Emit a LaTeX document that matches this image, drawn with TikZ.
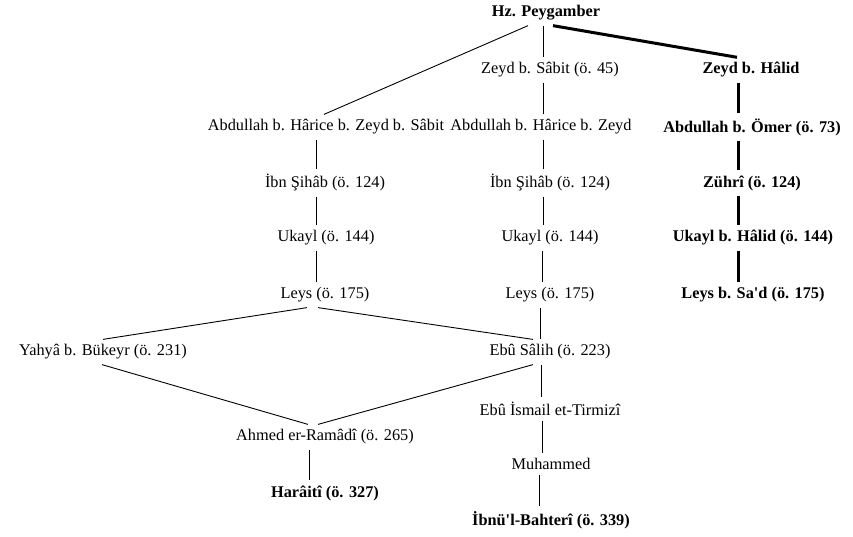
\documentclass[tikz,border=0pt]{standalone}
\usepackage{fontspec}
\setmainfont{Liberation Serif}[Ligatures=TeXOff]
\usetikzlibrary{calc}

\begin{document}
\begin{tikzpicture}[x=1pt,y=-1pt,
	every node/.style={font=\fontsize{16.3}{19}\selectfont, inner xsep=3pt, inner ysep=5pt},
	hb/.style={font=\fontsize{16.3}{19}\selectfont\bfseries},
	thin/.style={line width=0.9pt},
	thick/.style={line width=3pt}]

\newcommand{\drawLink}[5]{%style,from,to,shiftFrom,shiftTo
	\draw[#1] ([xshift=#4pt]#2.south) -- ([xshift=#5pt]#3.north);
}

\useasboundingbox (0,0) rectangle (853,536);

% top
\node[hb] (pey) at (546,13) {Hz. Peygamber};
\node (zSabit) at (550,70) {Zeyd b. Sâbit (ö. 45)};
\node[hb] (zHalid) at (751,70) {Zeyd b. Hâlid};

% left column
\node (abdA) at (326,127) {Abdullah b. Hârice b. Zeyd b. Sâbit};
\node (sihabA) at (325,183) {İbn Şihâb (ö. 124)};
\node (ukaylA) at (326,238) {Ukayl (ö. 144)};
\node (leysA) at (325,295) {Leys (ö. 175)};

% middle column
\node (abdB) at (541,127) {Abdullah b. Hârice b. Zeyd};
\node (sihabB) at (550,183) {İbn Şihâb (ö. 124)};
\node (ukaylB) at (550,238) {Ukayl (ö. 144)};
\node (leysB) at (550,295) {Leys (ö. 175)};

% right column
\node[hb] (abdC) at (752,127) {Abdullah b. Ömer (ö. 73)};
\node[hb] (zuhri) at (752,183) {Zührî (ö. 124)};
\node[hb] (ukaylC) at (753,238) {Ukayl b. Hâlid (ö. 144)};
\node[hb] (leysC) at (753,295) {Leys b. Sa'd (ö. 175)};

% lower part
\node (yahya) at (103,352) {Yahyâ b. Bükeyr (ö. 231)};
\node (ebuSalih) at (550,352) {Ebû Sâlih (ö. 223)};
\node (ebuIsmail) at (550,409) {Ebû İsmail et-Tirmizî};
\node (ahmed) at (325,437) {Ahmed er-Ramâdî (ö. 265)};
\node (muhammed) at (551,464) {Muhammed};
\node[hb] (haraiti) at (325,493) {Harâitî (ö. 327)};
\node[hb] (bahteri) at (551,520) {İbnü'l-Bahterî (ö. 339)};

% links
\drawLink{thin}{pey}{abdA}{-18}{-2}
\drawLink{thin}{pey}{zSabit}{-3}{-7}
\drawLink{thick}{pey}{zHalid}{7}{-14}

\drawLink{thin}{abdA}{sihabA}{-10}{-9}
\drawLink{thin}{sihabA}{ukaylA}{-9}{-10}
\drawLink{thin}{ukaylA}{leysA}{-10}{-9}

\drawLink{thin}{zSabit}{abdB}{-7}{2}
\drawLink{thin}{abdB}{sihabB}{2}{-7}
\drawLink{thin}{sihabB}{ukaylB}{-7}{-7}
\drawLink{thin}{ukaylB}{leysB}{-8}{-8}
\drawLink{thin}{leysB}{ebuSalih}{-10}{-10}

\drawLink{thick}{zHalid}{abdC}{-13}{-14}
\drawLink{thick}{abdC}{zuhri}{-14}{-14}
\drawLink{thick}{zuhri}{ukaylC}{-14}{-15}
\drawLink{thick}{ukaylC}{leysC}{-15}{-15}

\drawLink{thin}{leysA}{yahya}{-18}{0}
\drawLink{thin}{leysA}{ebuSalih}{-7}{-17}
\drawLink{thin}{yahya}{ahmed}{-1}{-17}
\drawLink{thin}{ebuSalih}{ahmed}{-17}{-7}
\drawLink{thin}{ebuSalih}{ebuIsmail}{-9}{-9}
\drawLink{thin}{ebuIsmail}{muhammed}{-8}{-9}
\drawLink{thin}{muhammed}{bahteri}{-12}{-12}
\drawLink{thin}{ahmed}{haraiti}{-16}{-16}

\end{tikzpicture}
\end{document}
